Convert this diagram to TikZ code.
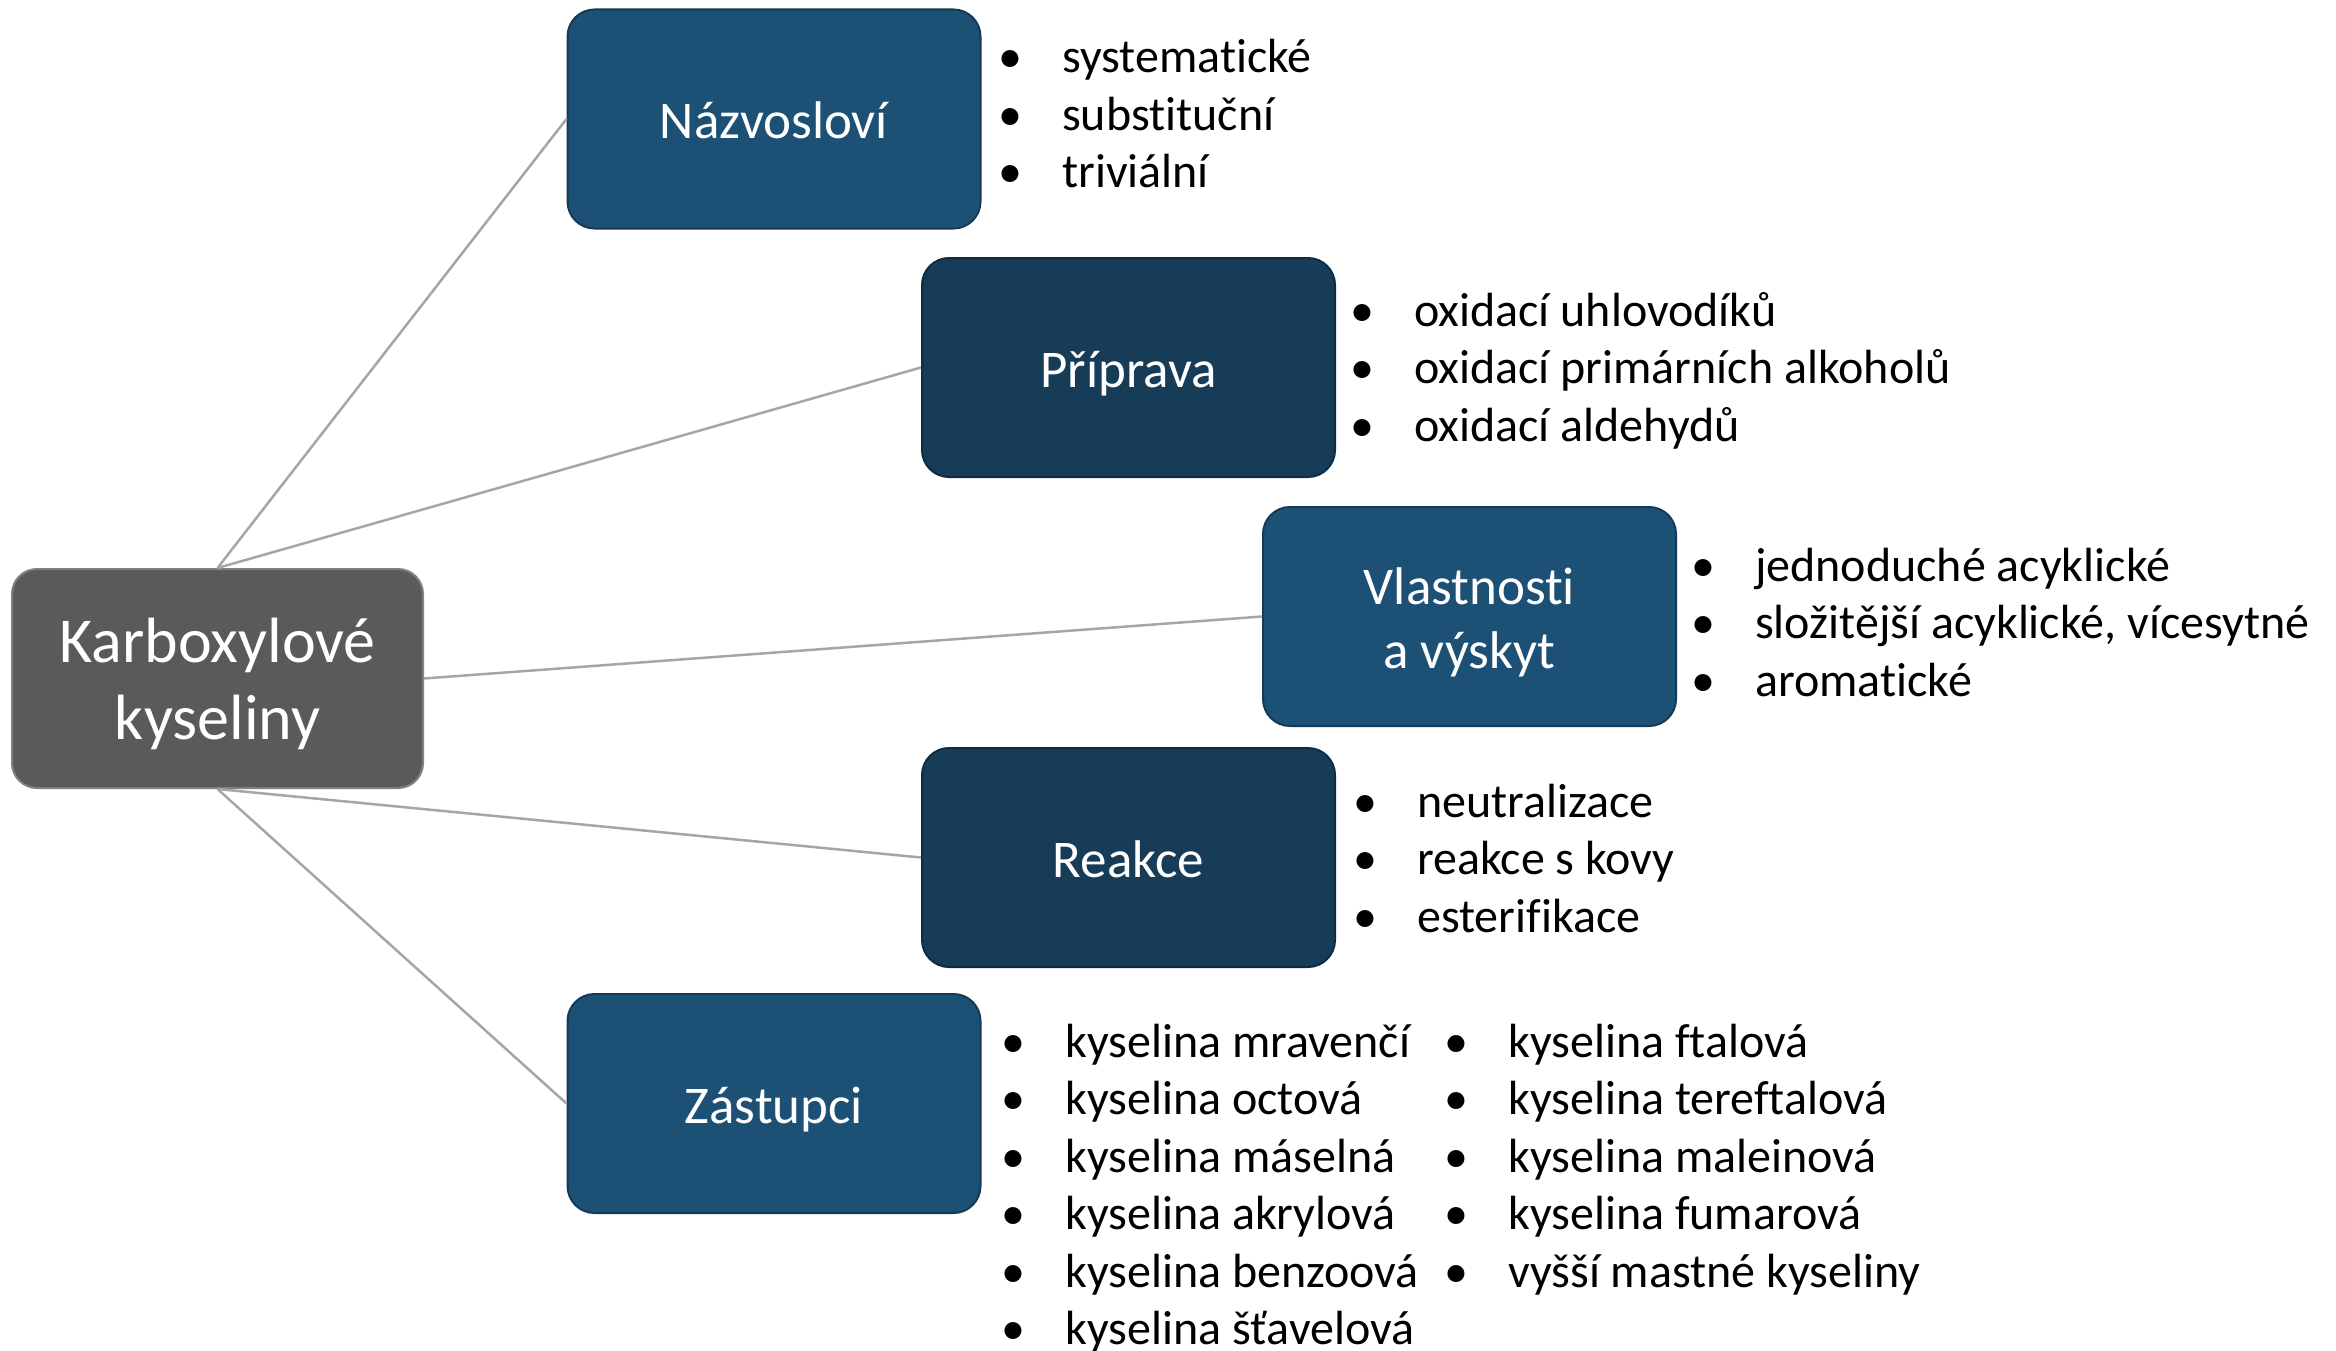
\documentclass[tikz,border=0pt]{standalone}
\usepackage{fontspec}
\setmainfont{Carlito}[Ligatures={NoCommon}]
\definecolor{centerfill}{HTML}{5A5A5A}
\definecolor{centerdraw}{HTML}{808080}
\definecolor{bluefill}{HTML}{1D5075}
\definecolor{bluedraw}{HTML}{143A57}
\definecolor{darkfill}{HTML}{163C58}
\definecolor{darkdraw}{HTML}{0F2C42}
\definecolor{linkcol}{HTML}{A6A6A6}
\newcommand\bul{\makebox[64pt][l]{•}}
\newcommand\topstrut[1]{\rule{0pt}{#1}}
\newcommand\botstrut[1]{\rule[-#1]{0pt}{#1}}
\begin{document}
\begin{tikzpicture}[x=1pt,y=-1pt,
  box/.style={rectangle, rounded corners=27pt, minimum width=413pt, minimum height=219pt,
    inner sep=0pt, text=white, align=center, line width=2pt,
    font=\fontsize{53pt}{63.5pt}\selectfont},
  onebox/.style={text height=39pt, text depth=0pt},
  lightbox/.style={box, fill=bluefill, draw=bluedraw},
  darkbox/.style={box, fill=darkfill, draw=darkdraw},
  centerbox/.style={box, minimum width=411pt, rounded corners=25pt, fill=centerfill, draw=centerdraw,
    font=\fontsize{64pt}{77pt}\selectfont},
  item/.style={inner sep=0pt, anchor=base west, text=black, font=\fontsize{48pt}{57.5pt}\selectfont},
  link/.style={draw=linkcol, line width=2.5pt}]
\useasboundingbox (0,0) rectangle (2336,1351);
\fill[white] (0,0) rectangle (2336,1351);

\node[centerbox] (C) at (217.5,678.5) {\topstrut{62pt}Karboxylové\\kyseliny\botstrut{16.5pt}};
\node[lightbox,onebox] (N) at (774,119) {Názvosloví};
\node[darkbox,onebox]  (P) at (1128.5,367.5) {Příprava};
\node[lightbox] (V) at (1469.5,616.5) {\topstrut{54pt}Vlastnosti\\a výskyt\botstrut{14pt}};
\node[darkbox,onebox]  (R) at (1128.5,857.5) {Reakce};
\node[lightbox,onebox] (Z) at (774,1103.5) {Zástupci};

\draw[link] (C.north) -- (N.west);
\draw[link] (C.north) -- (P.west);
\draw[link] (C.east) -- (V.west);
\draw[link] (C.south) -- (R.west);
\draw[link] (C.south) -- (Z.west);

\foreach \i/\t in {0/{systematické},1/{substituční},2/{triviální}}
  \node[item] (n\i) at (998,73+57.5*\i) {\bul\t};
\foreach \i/\t in {0/{oxidací uhlovodíků},1/{oxidací primárních alkoholů},2/{oxidací aldehydů}}
  \node[item] (p\i) at (1350,326+57.5*\i) {\bul\t};
\foreach \i/\t in {0/{jednoduché acyklické},1/{složitější acyklické, vícesytné},2/{aromatické}}
  \node[item] (v\i) at (1691,581+57.5*\i) {\bul\t};
\foreach \i/\t in {0/{neutralizace},1/{reakce s kovy},2/{esterifikace}}
  \node[item] (r\i) at (1353,817+57.5*\i) {\bul\t};
\foreach \i/\t in {0/{kyselina mravenčí},1/{kyselina octová},2/{kyselina máselná},3/{kyselina akrylová},4/{kyselina benzoová},5/{kyselina šťavelová}}
  \node[item] (za\i) at (1001,1057+57.5*\i) {\bul\t};
\foreach \i/\t in {0/{kyselina ftalová},1/{kyselina tereftalová},2/{kyselina maleinová},3/{kyselina fumarová},4/{vyšší mastné kyseliny}}
  \node[item] (zb\i) at (1444,1057+57.5*\i) {\bul\t};
\end{tikzpicture}
\end{document}
